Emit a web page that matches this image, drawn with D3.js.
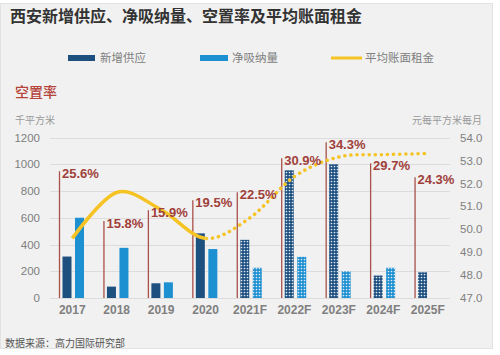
<!DOCTYPE html>
<html><head><meta charset="utf-8">
<script src="https://cdnjs.cloudflare.com/ajax/libs/d3/7.8.5/d3.min.js"></script>
<style>body{margin:0;background:#fff}svg{display:block}</style>
</head><body><svg id="c" width="500" height="355"></svg>
<script>
const years = ["2017","2018","2019","2020","2021F","2022F","2023F","2024F","2025F"];
const forecast = [false,false,false,false,true,true,true,true,true];
const newSupply = [310, 85, 110, 483, 435, 955, 1000, 168, 192];
const netAbsorption = [600, 375, 117, 366, 226, 308, 200, 226, null];
const vacancyLabels = ["25.6%","15.8%","15.9%","19.5%","22.5%","30.9%","34.3%","29.7%","24.3%"];
const vacancyMarker = [948, 575, 657, 731, 791, 1045, 1164, 1007, 903];
const rent = [49.6, 51.6, 50.85, 49.6, 50.5, 52.3, 53.15, 53.25, 53.3];
const leftTicks = [0,200,400,600,800,1000,1200];
const rightTicks = [47,48,49,50,51,52,53,54];

const svg = d3.select("#c");
const cjk = "'Noto Sans CJK SC','Noto Sans',sans-serif";
const num = "'Liberation Sans','DejaVu Sans',sans-serif";
const cDark = "#1d4f7f", cLight = "#1d90d2", cGold = "#f6c324", cRed = "#a0403a", cGray = "#808080";

// background panel
svg.append("rect").attr("x",0.5).attr("y",3.5).attr("width",492).attr("height",345)
  .attr("fill","#f1f1f1").attr("stroke","#e2e2e2");

const defs = svg.append("defs");
function pat(id, color){
  const p = defs.append("pattern").attr("id",id).attr("patternUnits","userSpaceOnUse")
    .attr("width",3).attr("height",3);
  p.append("rect").attr("width",3).attr("height",3).attr("fill",color);
  p.append("circle").attr("cx",1.5).attr("cy",1.5).attr("r",0.85).attr("fill","#dfe9f3");
}
pat("pd", cDark); pat("pl", cLight);

const x = d3.scaleBand().domain(years).range([50,450]);
const yL = d3.scaleLinear().domain([0,1200]).range([298,137.5]);
const yR = d3.scaleLinear().domain([47,54]).range([298,137.5]);

// title
svg.append("text").attr("x",10).attr("y",22).text("西安新增供应、净吸纳量、空置率及平均账面租金")
  .attr("font-family",cjk).attr("font-size",16).attr("font-weight","bold").attr("fill","#333");

// legend
const lg = svg.append("g").attr("font-family",cjk).attr("font-size",11.5).attr("fill",cGray);
lg.append("rect").attr("x",68).attr("y",55).attr("width",27).attr("height",6).attr("fill",cDark);
lg.append("text").attr("x",100).attr("y",62).text("新增供应");
lg.append("rect").attr("x",200).attr("y",55).attr("width",28).attr("height",6).attr("fill",cLight);
lg.append("text").attr("x",232).attr("y",62).text("净吸纳量");
lg.append("line").attr("x1",331).attr("x2",362).attr("y1",58).attr("y2",58).attr("stroke",cGold).attr("stroke-width",3);
lg.append("text").attr("x",365).attr("y",62).text("平均账面租金");

svg.append("text").attr("x",15).attr("y",97).text("空置率").attr("font-family",cjk)
  .attr("font-size",14).attr("fill","#b5443a").attr("font-weight",500);
svg.append("text").attr("x",15).attr("y",124).text("千平方米").attr("font-family",cjk)
  .attr("font-size",10).attr("fill","#9a9a9a");
svg.append("text").attr("x",482).attr("y",124).attr("text-anchor","end").text("元每平方米每月")
  .attr("font-family",cjk).attr("font-size",10).attr("fill","#9a9a9a");

// grid
svg.append("g").selectAll("line").data(leftTicks).join("line")
  .attr("x1",50).attr("x2",450).attr("y1",d=>Math.round(yL(d))+0.5).attr("y2",d=>Math.round(yL(d))+0.5)
  .attr("stroke","#dcdcdc").attr("stroke-width",1);

// axes
const axL = svg.append("g").attr("transform","translate(42,0)")
  .call(d3.axisLeft(yL).tickValues(leftTicks).tickFormat(d3.format("d")).tickSize(0).tickPadding(2));
axL.select(".domain").remove();
axL.selectAll("text").attr("font-family",num).attr("font-size",11.5).attr("fill",cGray);
const axR = svg.append("g").attr("transform","translate(458,0)")
  .call(d3.axisRight(yR).tickValues(rightTicks).tickFormat(d3.format(".1f")).tickSize(0).tickPadding(2));
axR.select(".domain").remove();
axR.selectAll("text").attr("font-family",num).attr("font-size",11.5).attr("fill",cGray);
const axB = svg.append("g").attr("transform","translate(0,300)")
  .call(d3.axisBottom(x).tickSize(0).tickPadding(5));
axB.select(".domain").remove();
axB.selectAll("text").attr("font-family",num).attr("font-size",12).attr("font-weight","bold").attr("fill",cGray);

// vacancy marker lines
svg.append("g").selectAll("line").data(years).join("line")
  .attr("x1",d=>x(d)+9.5).attr("x2",d=>x(d)+9.5)
  .attr("y1",yL(0)).attr("y2",(d,i)=>yL(vacancyMarker[i]))
  .attr("stroke","#a9504a").attr("stroke-width",1.3);

// bars
svg.append("g").selectAll("rect").data(years).join("rect")
  .attr("x",d=>x(d)+12.5).attr("width",9)
  .attr("y",(d,i)=>yL(newSupply[i])).attr("height",(d,i)=>yL(0)-yL(newSupply[i]))
  .attr("fill",(d,i)=>forecast[i]?"url(#pd)":cDark);
svg.append("g").selectAll("rect").data(years.filter((d,i)=>netAbsorption[i]!=null)).join("rect")
  .attr("x",d=>x(d)+25).attr("width",9)
  .attr("y",d=>yL(netAbsorption[years.indexOf(d)]))
  .attr("height",d=>yL(0)-yL(netAbsorption[years.indexOf(d)]))
  .attr("fill",d=>forecast[years.indexOf(d)]?"url(#pl)":cLight);

// rent line
const cx = d=>x(d)+x.bandwidth()/2;
const line = d3.line().x((d,i)=>cx(years[i])).y(d=>yR(d)).curve(d3.curveCatmullRom.alpha(0));
const split = cx("2020");
defs.append("clipPath").attr("id","cs").append("rect").attr("x",0).attr("y",0).attr("width",split).attr("height",355);
defs.append("clipPath").attr("id","cd").append("rect").attr("x",split).attr("y",0).attr("width",500-split).attr("height",355);
svg.append("path").attr("d",line(rent)).attr("fill","none").attr("stroke",cGold)
  .attr("stroke-width",3.5).attr("clip-path","url(#cs)");
svg.append("path").attr("d",line(rent)).attr("fill","none").attr("stroke",cGold)
  .attr("stroke-width",3.5).attr("stroke-linecap","round").attr("stroke-dasharray","0.1 6")
  .attr("stroke-dashoffset",-3).attr("clip-path","url(#cd)");

// vacancy labels
svg.append("g").selectAll("text").data(years).join("text")
  .attr("x",d=>x(d)+12).attr("y",(d,i)=>yL(vacancyMarker[i])+6.5)
  .text((d,i)=>vacancyLabels[i])
  .attr("font-family",num).attr("font-size",13).attr("font-weight","bold").attr("fill",cRed);

// source
svg.append("text").attr("x",5).attr("y",347).text("数据来源：高力国际研究部")
  .attr("font-family",cjk).attr("font-size",10).attr("fill","#555");
</script></body></html>
